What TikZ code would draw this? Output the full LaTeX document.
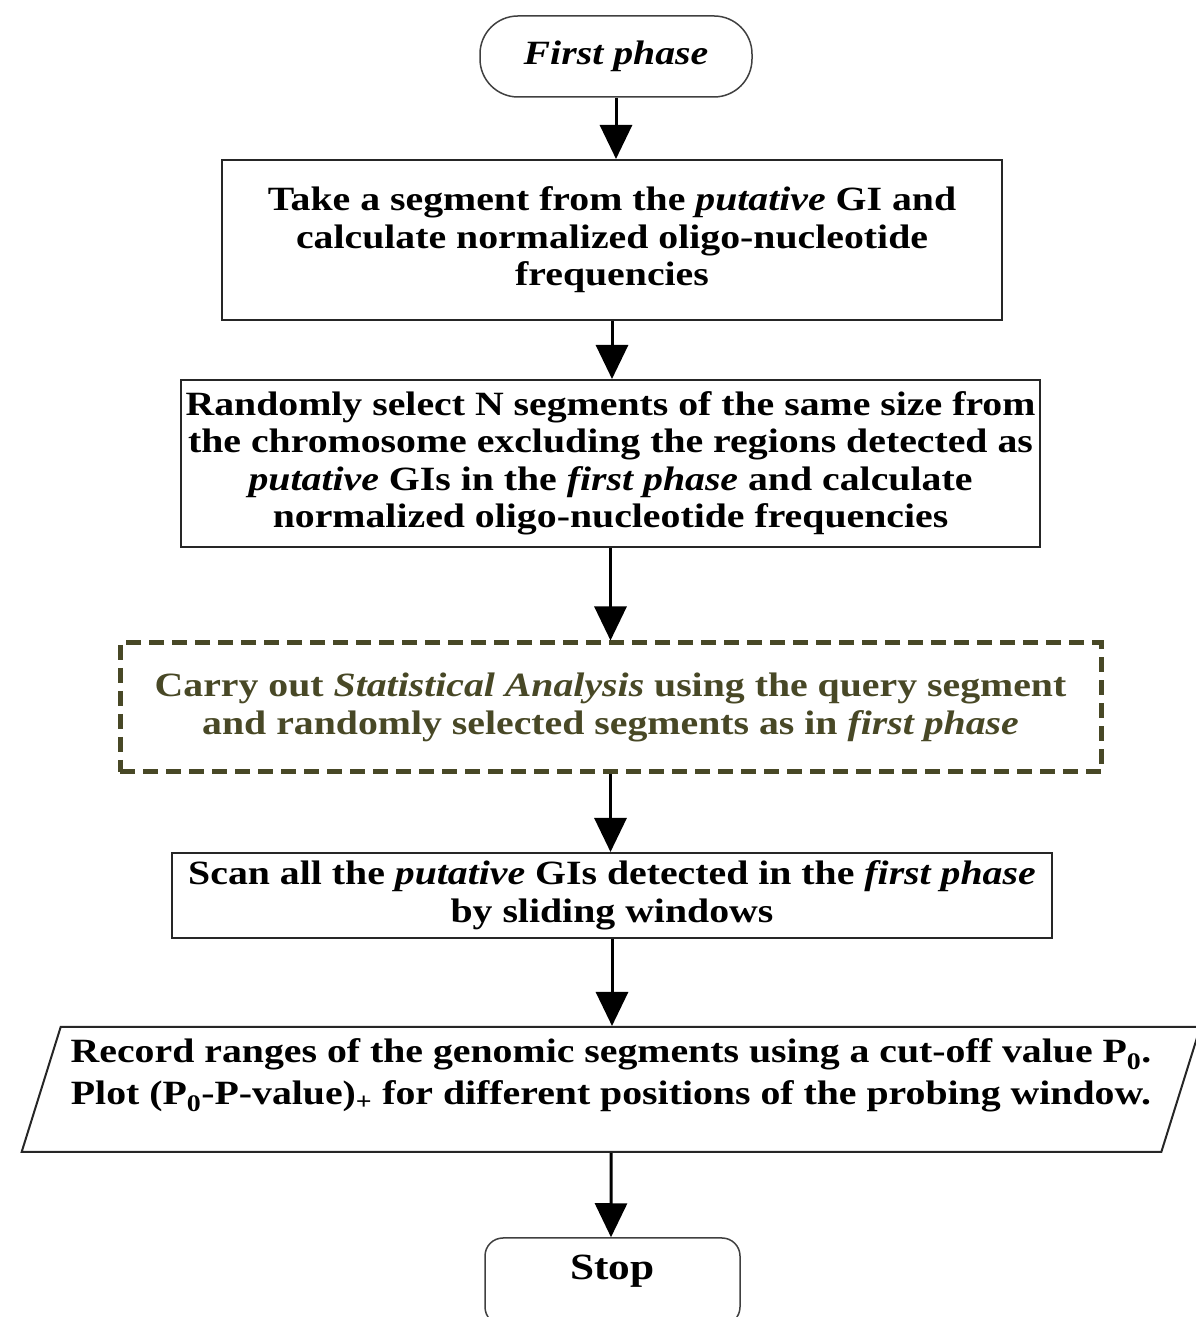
\documentclass[tikz,border=0pt]{standalone}
\usepackage{fontspec}
\setmainfont{Liberation Serif}[FakeStretch=1.17]
\usetikzlibrary{
  arrows.meta,%
  shapes.geometric,%
  positioning
}
\definecolor{olivedark}{RGB}{72,72,38}
\newcommand{\flowfont}{\fontsize{34}{37.5}\selectfont\bfseries}
\tikzset{>={Triangle[width=32pt,length=34pt]}}
\tikzset{
  stepbox/.style={draw=black!85, line width=2pt, align=center, font=\flowfont, inner sep=0pt},
  terminal/.style={draw=black!75, line width=1.5pt, rounded corners=38pt, align=center, font=\flowfont},
  statbox/.style={stepbox, draw=olivedark, text=olivedark, line width=5pt, dash pattern=on 15pt off 8pt},
  iobox/.style={stepbox, trapezium, trapezium left angle=69.4, trapezium right angle=110.6,
    trapezium stretches=true},
  flow/.style={->, line width=3pt}
}

\begin{document}
\begin{tikzpicture}[x=1pt, y=1pt]
  \useasboundingbox (0, 0) rectangle (1196, 1317); %
  \node[terminal, minimum width=272pt, minimum height=81pt] (first) at (616, 1260.5) {\textit{First phase}}; %
  \node[stepbox, minimum width=780pt, minimum height=160pt] (take) at (612, 1077)
    {Take a segment from the \textit{putative} GI and\\ calculate normalized oligo-nucleotide\\ frequencies}; %
  \node[stepbox, minimum width=859pt, minimum height=167pt] (random) at (610.5, 853.5)
    {Randomly select N segments of the same size from\\ the chromosome excluding the regions detected as\\
     \textit{putative} GIs in the \textit{first phase} and calculate\\ normalized oligo-nucleotide frequencies}; %
  \node[statbox, minimum width=981pt, minimum height=129pt] (stat) at (610.5, 609.5)
    {Carry out \textit{Statistical Analysis} using the query segment\\ and randomly selected segments as in \textit{first phase}}; %
  \node[stepbox, minimum width=880pt, minimum height=85pt] (scan) at (612, 421.5)
    {Scan all the \textit{putative} GIs detected in the \textit{first phase}\\ by sliding windows}; %
  \node[iobox, minimum width=1192pt, minimum height=125pt, text depth=36pt,
    font=\fontsize{34}{42}\selectfont\bfseries] (record) at (611, 227.5)
    {Record ranges of the genomic segments using a cut-off value P\textsubscript{0}.\\
     Plot (P\textsubscript{0}-P-value)\textsubscript{+} for different positions of the probing window.}; %
  \node[terminal, rounded corners=18pt, minimum width=255pt, minimum height=87pt, text depth=29pt,
    font=\fontsize{37}{42}\selectfont\bfseries] (stop) at (612.5, 35.5) {Stop}; %
  % connectors
  \draw[flow] (first) -- (first |- take.north); %
  \draw[flow] (take) -- (take |- random.north); %
  \draw[flow] (random) -- (random |- stat.north); %
  \draw[flow] (stat) -- (stat |- scan.north); %
  \draw[flow] (scan) -- (scan |- record.north); %
  \draw[flow] (record) -- (record |- stop.north); %
\end{tikzpicture}
\end{document}
